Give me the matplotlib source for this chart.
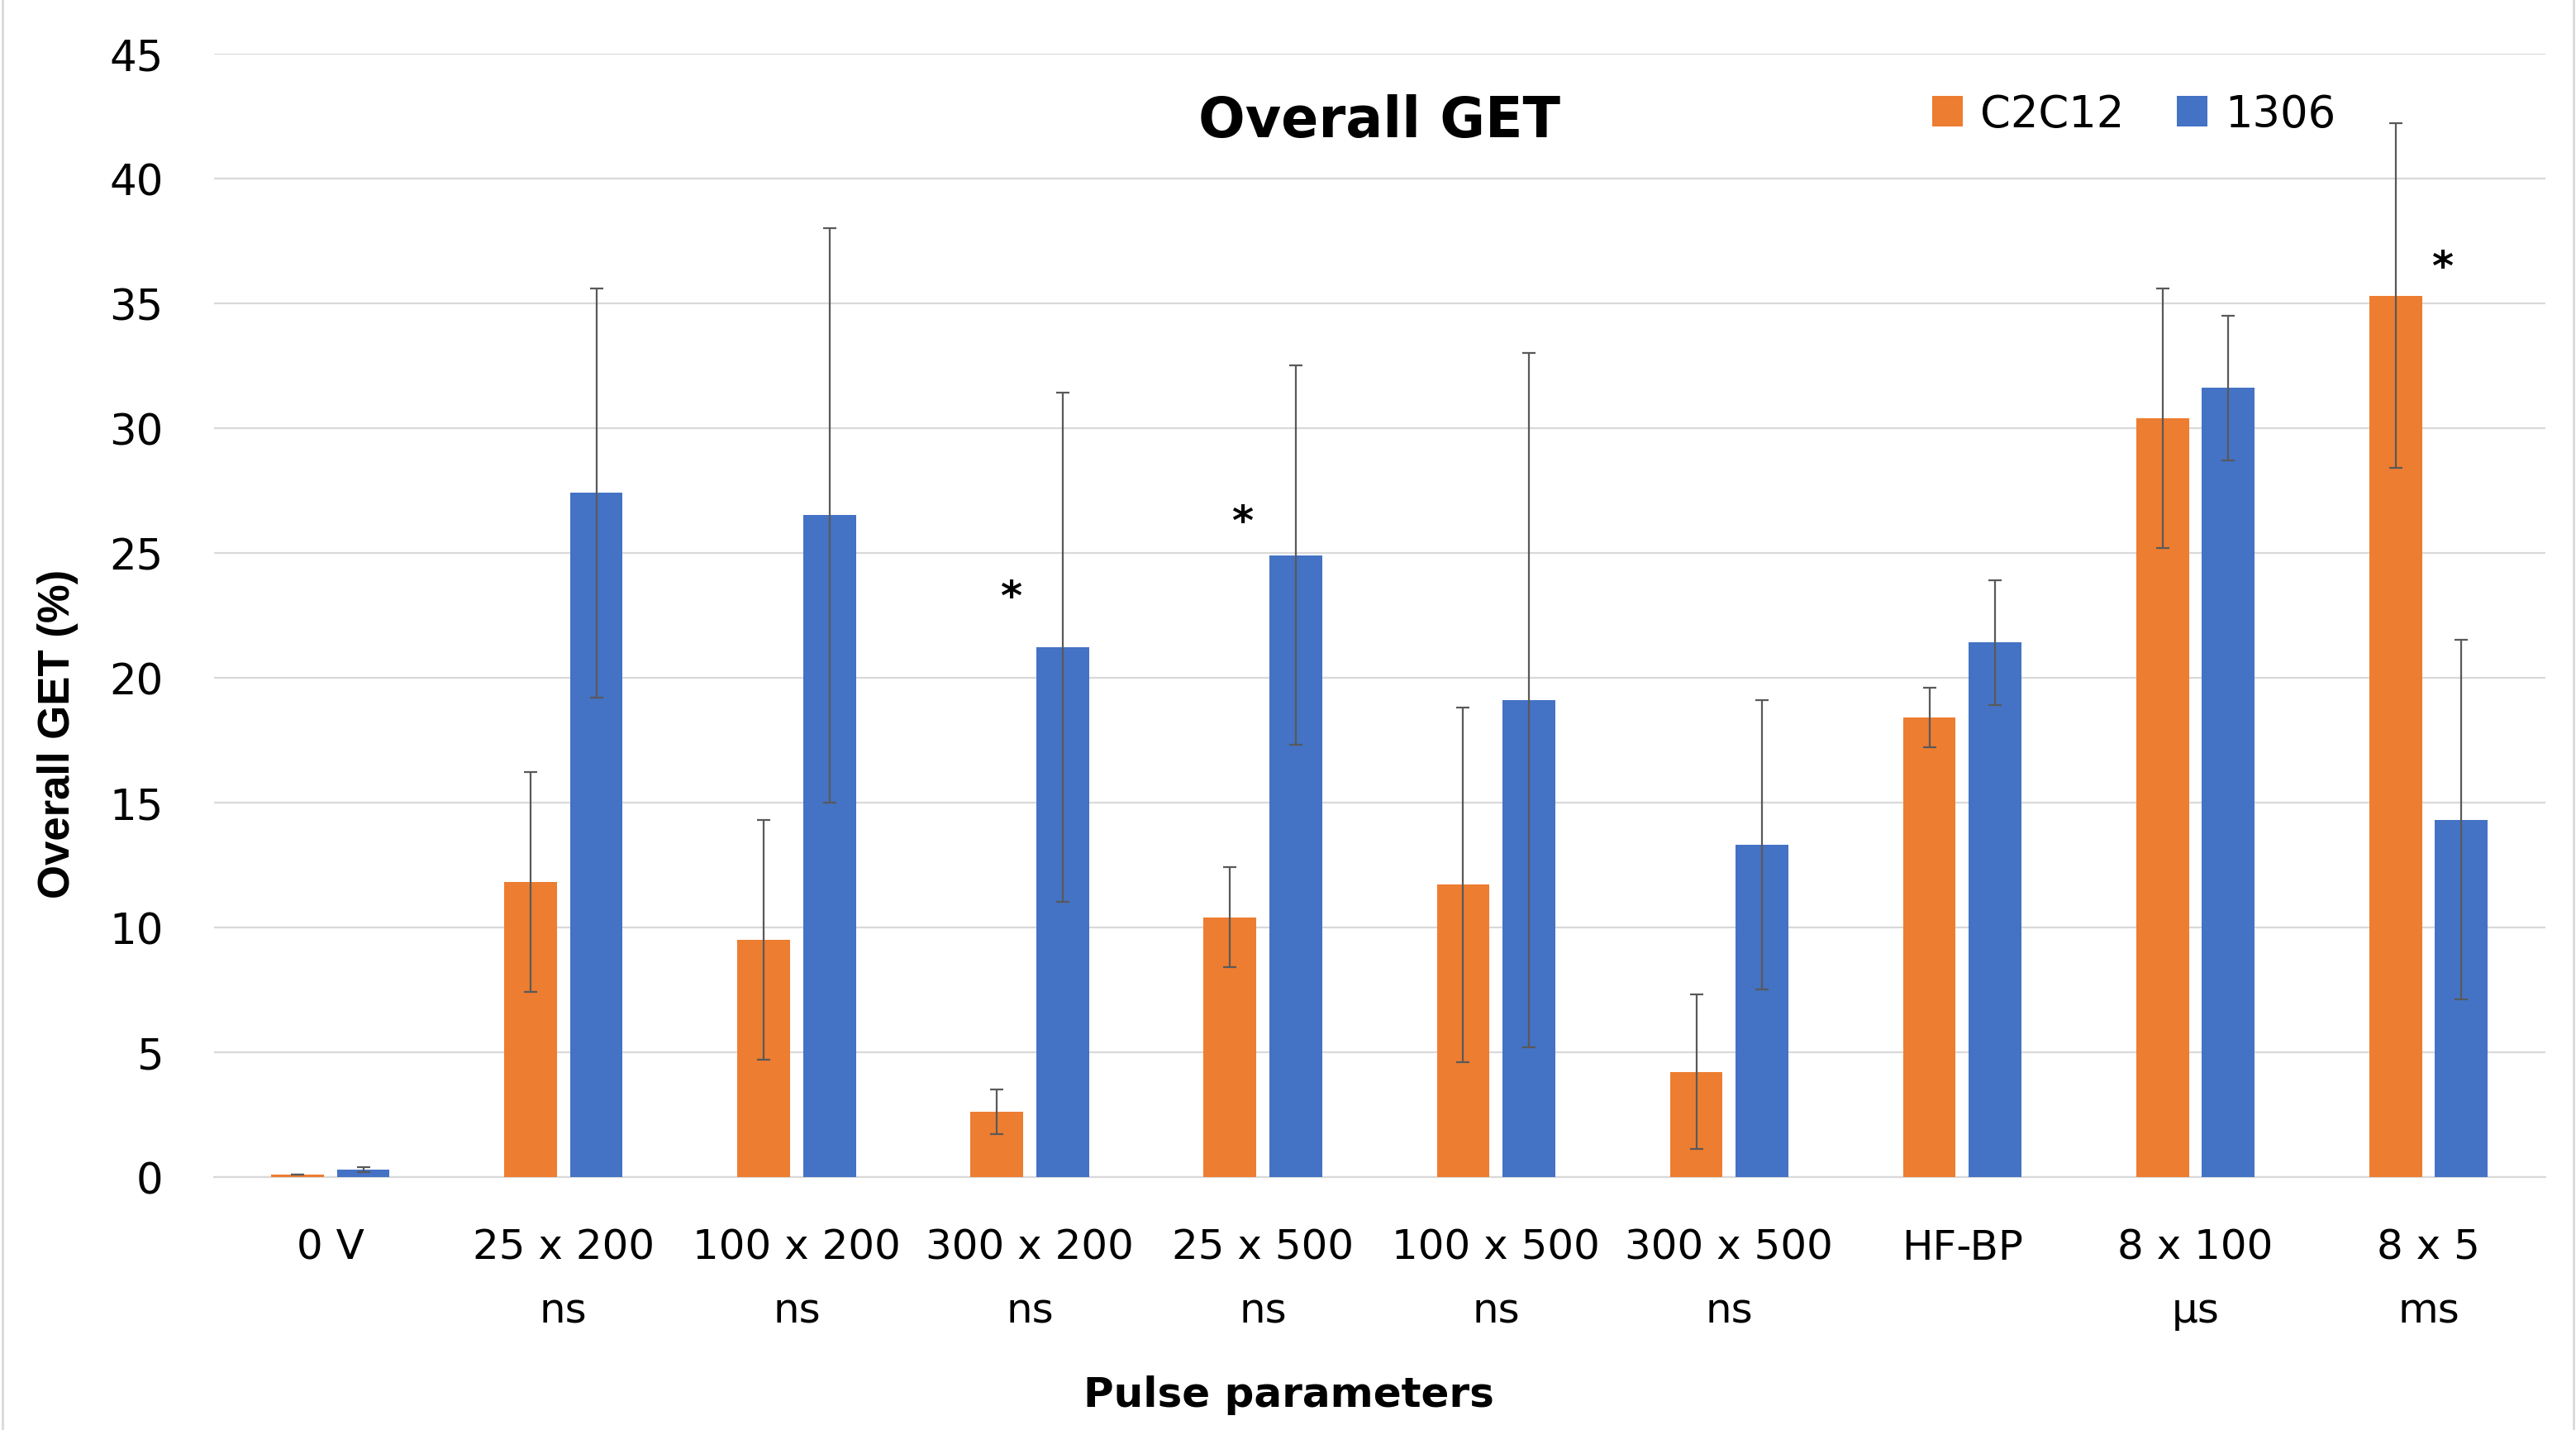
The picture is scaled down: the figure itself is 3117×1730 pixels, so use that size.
import numpy as np
import matplotlib.pyplot as plt
from matplotlib.lines import Line2D

categories = ["0 V", "25 x 200\nns", "100 x 200\nns", "300 x 200\nns", "25 x 500\nns",
              "100 x 500\nns", "300 x 500\nns", "HF-BP", "8 x 100\nµs", "8 x 5\nms"]
c2c12 = [0.1, 11.8, 9.5, 2.6, 10.4, 11.7, 4.2, 18.4, 30.4, 35.3]
c2c12_err = [0.0, 4.4, 4.8, 0.9, 2.0, 7.1, 3.1, 1.2, 5.2, 6.9]
h1306 = [0.3, 27.4, 26.5, 21.2, 24.9, 19.1, 13.3, 21.4, 31.6, 14.3]
h1306_err = [0.1, 8.2, 11.5, 10.2, 7.6, 13.9, 5.8, 2.5, 2.9, 7.2]

# significance stars: (category index, offset, height)
stars = [(3, -0.08, 23.2), (4, -0.09, 26.2), (9, 0.06, 36.4)]

orange = '#ED7D31'
blue = '#4472C4'

fig = plt.figure(figsize=(15.585, 8.655), dpi=200)
ax = fig.add_axes([0.083, 0.177, 0.905, 0.785])

x = np.arange(len(categories))
w = 0.226
off = 0.141
ekw = dict(ecolor='#595959', elinewidth=0.8, capsize=3, capthick=0.8)
ax.bar(x - off, c2c12, w, color=orange, yerr=c2c12_err, error_kw=ekw, label='C2C12', zorder=3)
ax.bar(x + off, h1306, w, color=blue, yerr=h1306_err, error_kw=ekw, label='1306', zorder=3)

for i, dx, y in stars:
    ax.text(i + dx, y, '*', ha='center', va='center', fontsize=18, fontweight='bold')

ax.set_xlim(-0.5, len(categories) - 0.5)
ax.set_ylim(0, 45)
ax.set_yticks(np.arange(0, 46, 5))
ax.set_xticks(x)
ax.set_xticklabels(categories, fontsize=18, linespacing=1.75)
ax.tick_params(axis='y', labelsize=18.5, length=0, pad=22)
ax.tick_params(axis='x', length=0, pad=22)
ax.grid(axis='y', color='#D9D9D9', linewidth=0.8, zorder=0)
for s in ['top', 'right', 'left']:
    ax.spines[s].set_visible(False)
ax.spines['bottom'].set_color('#D9D9D9')
ax.spines['bottom'].set_linewidth(0.8)

ax.text(0.5, 0.94, 'Overall GET', transform=ax.transAxes, ha='center', va='center',
        fontsize=24, fontweight='bold')
ax.set_xlabel('Pulse parameters', fontsize=18, fontweight='bold')
ax.xaxis.set_label_coords(0.461, -0.176)
ax.set_ylabel('Overall GET (%)', fontsize=19, fontweight='bold',
              family=['Liberation Sans', 'DejaVu Sans'])
ax.yaxis.set_label_coords(-0.058, 0.395)

ax.legend(loc='upper right', bbox_to_anchor=(0.927, 1.0), ncol=2, frameon=False,
          fontsize=19, handlelength=0.7, handleheight=0.7, columnspacing=1.2, handletextpad=0.4)

fig.add_artist(Line2D([0.001, 0.001], [0, 1], color='#D9D9D9', lw=1, transform=fig.transFigure))
fig.add_artist(Line2D([0.999, 0.999], [0, 1], color='#D9D9D9', lw=1, transform=fig.transFigure))

fig.savefig('out.png', dpi=200)
